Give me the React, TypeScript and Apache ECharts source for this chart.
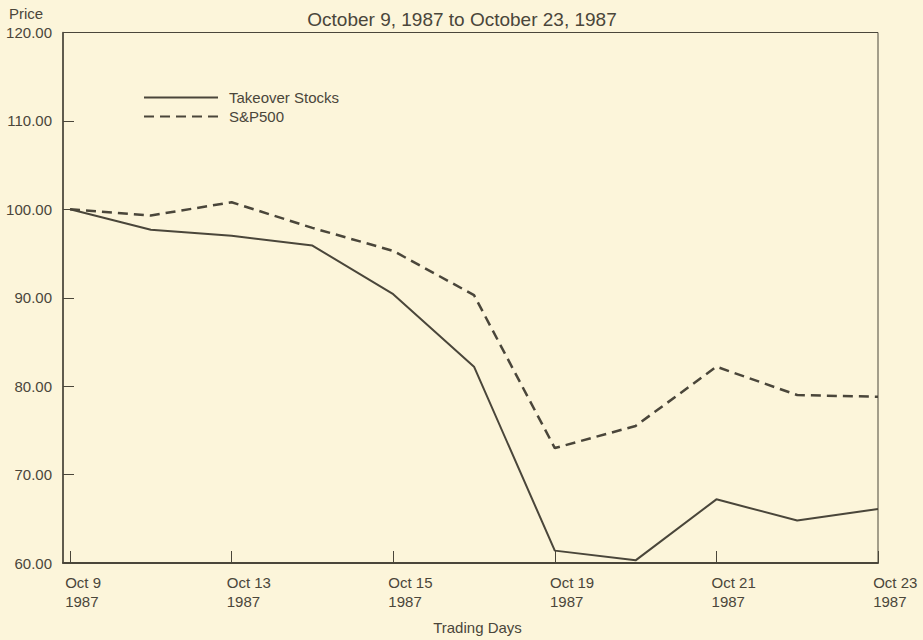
import React, { useEffect, useRef } from "react";
import * as echarts from "echarts";

const days = ["Oct 9", "Oct 12", "Oct 13", "Oct 14", "Oct 15", "Oct 16", "Oct 19", "Oct 20", "Oct 21", "Oct 22", "Oct 23"];
const labelledDays = [0, 2, 4, 6, 8, 10];
const takeover = [100, 97.7, 97.0, 95.9, 90.4, 82.2, 61.4, 60.3, 67.2, 64.8, 66.1];
const sp500 = [100, 99.3, 100.8, 97.9, 95.3, 90.3, 73.0, 75.5, 82.2, 79.0, 78.8];

const INK = "#4a463a";
const FONT = "'Liberation Sans', Arial, Helvetica, sans-serif";

export default function App() {
  const ref = useRef<HTMLDivElement>(null);
  useEffect(() => {
    document.body.style.margin = "0";
    const chart = echarts.init(ref.current!, null, { renderer: "svg" });
    const toPairs = (arr: number[]) => arr.map((v, i) => [i, v]);
    chart.setOption({
      animation: false,
      backgroundColor: "#fcf5da",
      textStyle: { fontFamily: FONT, color: INK },
      title: {
        text: "October 9, 1987 to October 23, 1987",
        left: 457,
        textAlign: "center",
        top: 5,
        textStyle: { fontFamily: FONT, fontSize: 19, fontWeight: "normal", color: INK },
      },
      legend: {
        orient: "vertical",
        left: 138,
        top: 85,
        itemWidth: 74,
        itemHeight: 14,
        itemGap: 4,
        itemStyle: { color: "transparent", borderColor: "transparent", borderWidth: 0 },
        textStyle: { fontFamily: FONT, fontSize: 15, color: INK, padding: [0, 0, 0, 6] },
        data: ["Takeover Stocks", "S&P500"],
      },
      grid: {
        left: 63,
        right: 45,
        top: 32.5,
        bottom: 75,
        show: true,
        borderColor: INK,
        borderWidth: 1,
        backgroundColor: "transparent",
      },
      xAxis: {
        type: "value",
        min: -0.087,
        max: 10,
        name: "Trading Days",
        nameLocation: "middle",
        nameGap: 57,
        nameTextStyle: { fontFamily: FONT, fontSize: 15, color: INK, padding: [0, 0, 0, 14] },
        axisLine: { show: true, onZero: false, lineStyle: { color: INK, width: 2 } },
        axisTick: { show: true, inside: true, length: 12, customValues: labelledDays, lineStyle: { color: INK, width: 1 } },
        axisLabel: {
          customValues: labelledDays.map((d) => d - 0.06),
          formatter: (v: number) => days[Math.round(v)] + "\n1987",
          align: "left",
          margin: 10,
          fontFamily: FONT,
          fontSize: 15,
          lineHeight: 19,
          color: INK,
        },
        splitLine: { show: false },
      },
      yAxis: {
        type: "value",
        min: 60,
        max: 120,
        interval: 10,
        name: "Price",
        nameLocation: "end",
        nameGap: 12,
        nameTextStyle: { fontFamily: FONT, fontSize: 15, color: INK, align: "left", padding: [0, 0, 0, -54] },
        axisLine: { show: true, onZero: false, lineStyle: { color: INK, width: 1.5 } },
        axisTick: { show: true, inside: true, length: 11, lineStyle: { color: INK, width: 1 } },
        axisLabel: {
          formatter: (v: number) => v.toFixed(2),
          margin: 11,
          fontFamily: FONT,
          fontSize: 15,
          color: INK,
        },
        splitLine: { show: false },
      },
      series: [
        {
          name: "Takeover Stocks",
          type: "line",
          data: toPairs(takeover),
          symbol: "none",
          lineStyle: { color: INK, width: 2 },
          itemStyle: { color: INK },
        },
        {
          name: "S&P500",
          type: "line",
          data: toPairs(sp500),
          symbol: "none",
          lineStyle: { color: INK, width: 2.5, type: [10, 6] },
          itemStyle: { color: INK },
        },
      ],
    });
    return () => chart.dispose();
  }, []);
  return <div ref={ref} style={{ position: "fixed", left: 0, top: 0, width: 923, height: 640 }} />;
}
